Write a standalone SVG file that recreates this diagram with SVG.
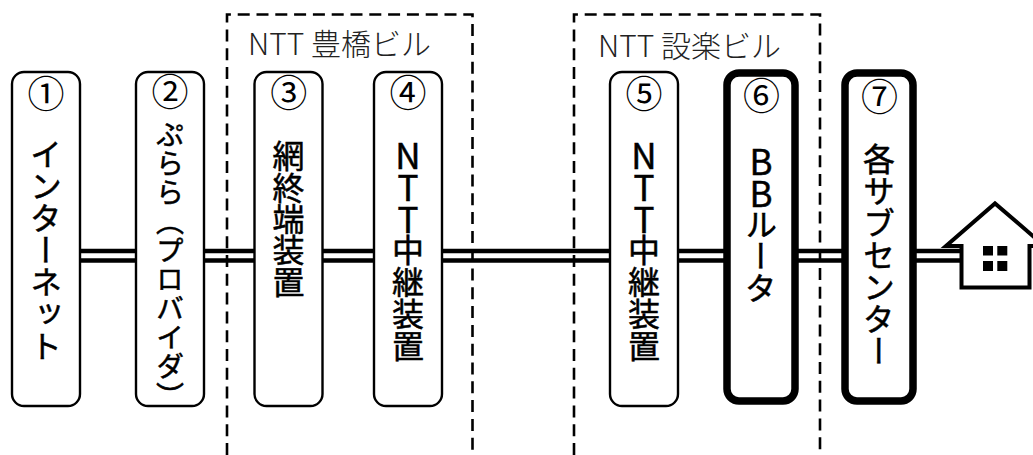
<svg xmlns="http://www.w3.org/2000/svg" width="1033" height="455" viewBox="0 0 1033 455">
<style>
text{font-family:"Noto Sans CJK JP","Noto Sans",sans-serif;fill:#000}
.b{fill:#fff;stroke:#000;stroke-width:2.4}
.k{fill:#fff;stroke:#000;stroke-width:7.5}
.n{font-size:37px;text-anchor:middle}
.v{writing-mode:vertical-rl;text-orientation:upright;font-size:32px;stroke:#000;stroke-width:.5}
.a{font-size:35px;letter-spacing:-3px}
.d{fill:none;stroke:#000;stroke-width:2.6;stroke-dasharray:12 6.8}
.l{font-size:30px;fill:#222;font-weight:300}
.c{fill:none;stroke:#000;stroke-width:4.4}
</style>
<rect width="1033" height="455" fill="#fff"/>
<g id="connectors">
<path class="c" d="M80 251H962M80 260.500H962"/>
</g>
<g id="node1"><rect class="b" x="12" y="72" width="68" height="334" rx="12"/><text class="n" x="46" y="107.500">①</text><text class="v" x="46" y="138">インターネット</text></g>
<g id="node2"><rect class="b" x="136" y="72" width="68" height="334" rx="12"/><text class="n" x="170" y="105.500">②</text><text class="v" x="170" y="120" style="font-size:28px;letter-spacing:1.1px">ぷらら（プロバイダ）</text></g>
<g id="node3"><rect class="b" x="254.500" y="72" width="68" height="334" rx="12"/><text class="n" x="288.700" y="106.500">③</text><text class="v" x="288.500" y="140" style="letter-spacing:-.6px">網終端装置</text></g>
<g id="node4"><rect class="b" x="374" y="72" width="68" height="334" rx="12"/><text class="n" x="408" y="106.500">④</text><text class="v" x="408" y="138"><tspan class="a">NTT</tspan>中継装置</text></g>
<g id="node5"><rect class="b" x="610" y="72" width="68" height="334" rx="12"/><text class="n" x="644" y="107.500">⑤</text><text class="v" x="644" y="138"><tspan class="a">NTT</tspan>中継装置</text></g>
<g id="node6"><rect class="k" x="727" y="73" width="68" height="328" rx="12"/><text class="n" x="761.500" y="110">⑥</text><text class="v" x="761" y="144"><tspan class="a">BB</tspan>ルータ</text></g>
<g id="node7"><rect class="k" x="845" y="73" width="68" height="328" rx="12"/><text class="n" x="879.500" y="111">⑦</text><text class="v" x="879" y="143">各サブセンター</text></g>
<g id="building1"><path class="d" d="M227 455V14.500H472.500V455"/><text class="l" x="248" y="55">NTT 豊橋ビル</text></g>
<g id="building2"><path class="d" d="M574 455V14.500H820V455"/><text class="l" x="598" y="57">NTT 設楽ビル</text></g>
<g id="house">
<path d="M1040 246H1029.500V287.500H961.500V246H946L995 203.500L1040 242" fill="#fff" stroke="#000" stroke-width="4"/>
<rect x="983" y="246" width="10" height="9.500"/><rect x="997.300" y="246" width="10" height="9.500"/><rect x="983" y="261" width="10" height="10"/><rect x="997.300" y="261" width="10" height="10"/>
</g>
</svg>
